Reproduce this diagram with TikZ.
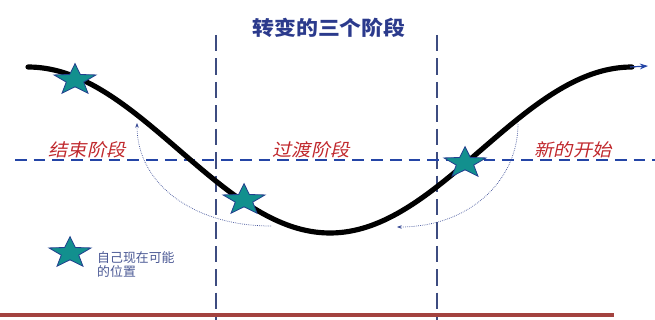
\documentclass[tikz,border=0pt]{standalone}
\usepackage{fontspec}
\newfontfamily\cjk{Noto Sans CJK SC}
\newfontfamily\cjkslant[FakeSlant=0.2]{Noto Sans CJK SC}
\usetikzlibrary{shapes.geometric,arrows.meta}
\definecolor{titleblue}{HTML}{2B3A8C}
\definecolor{vline}{HTML}{3D4C80}
\definecolor{hline}{HTML}{2445A6}
\definecolor{stagered}{HTML}{C0282D}
\definecolor{starteal}{HTML}{12908E}
\definecolor{stardark}{HTML}{22408E}
\definecolor{legendtxt}{HTML}{4A5894}
\definecolor{bottomred}{HTML}{A3423F}
\definecolor{arcblue}{HTML}{3A4C96}
\tikzset{
  starmark/.style={star, star points=5, star point ratio=2.4, minimum size=0.98cm,
    inner sep=0pt, fill=starteal, draw=stardark, line width=0.7pt, xscale=1.35, transform shape},
  stagelabel/.style={font=\cjkslant\fontsize{15pt}{17pt}\selectfont, text=stagered, xscale=1.1, transform shape},
  vdash/.style={draw=vline, line width=0.9pt, dash pattern=on 14pt off 6pt},
  hdash/.style={draw=hline, line width=1.1pt, dash pattern=on 10pt off 6pt},
  dotarc/.style={draw=arcblue, line width=0.6pt, densely dotted, -{Stealth[length=4pt,width=3pt]}},
}
\begin{document}
\begin{tikzpicture}[x=0.03cm,y=-0.03cm]
\useasboundingbox (0,0) rectangle (655,320);
% title
\node[font=\cjk\bfseries\fontsize{17pt}{19pt}\selectfont, text=titleblue, xscale=1.1, transform shape] (title) at (329,28) {转变的三个阶段};
% vertical dashed lines
\coordinate (v1t) at (216,35); \coordinate (v1b) at (216,320);
\coordinate (v2t) at (437,35); \coordinate (v2b) at (437,320);
\draw[vdash] (v1t) -- (v1b);
\draw[vdash] (v2t) -- (v2b);
% horizontal dashed line
\coordinate (hl) at (15,160); \coordinate (hr) at (655,160);
\draw[hdash] (hl) -- (hr);
% stage labels
\node[stagelabel] (st1) at (87,150) {结束阶段};
\node[stagelabel] (st2) at (311,150) {过渡阶段};
\node[stagelabel] (st3) at (573,150) {新的开始};
% dotted arcs
\coordinate (la) at (271,226); \coordinate (lb) at (137,123);
\draw[dotarc] (la) .. controls (195,226) and (137,185) .. (lb);
\coordinate (ra) at (518,124); \coordinate (rb) at (397,227);
\draw[dotarc] (ra) .. controls (518,180) and (470,227) .. (rb);
% main curve
\draw[line width=4.4pt, black, line cap=round] plot[domain=28:632, samples=140, smooth] (\x,{150-83*cos(0.596026*(\x-28))});
\coordinate (cend) at (630,67);
\coordinate (ctip) at (648,66);
\draw[hline, line width=1pt, -{Stealth[length=7pt,width=5pt]}] (cend) -- (ctip);
% stars
\node[starmark] (s1) at (75,80) {};
\node[starmark] (s2) at (244,200) {};
\node[starmark] (s3) at (465,163) {};
\node[starmark] (s4) at (70,253) {};
% legend text
\node[anchor=north west, align=left, inner sep=0pt, text=legendtxt,
  font=\cjk\fontsize{11pt}{12.5pt}\selectfont] (leg) at (97,251) {自己现在可能\\的位置};
% bottom line
\coordinate (bl) at (0,315); \coordinate (br) at (614,315);
\draw[draw=bottomred, line width=3.6pt] (bl) -- (br);
\end{tikzpicture}
\end{document}
